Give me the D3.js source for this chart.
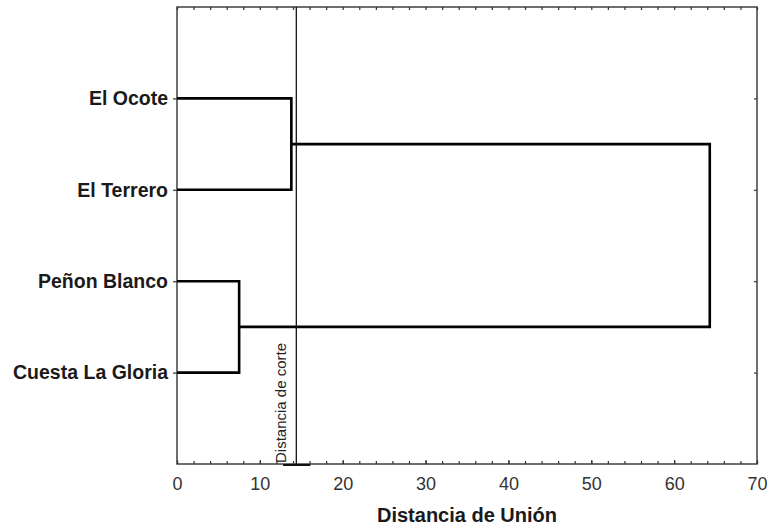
<!DOCTYPE html>
<html>
<head>
<meta charset="utf-8">
<script src="https://cdn.jsdelivr.net/npm/d3@7"></script>
<style>
  body { margin: 0; background: #fff; }
  svg { font-family: "Liberation Sans", Arial, sans-serif; }
</style>
</head>
<body>
<svg id="chart" width="771" height="529"></svg>
<script>
// leaves, top to bottom
var leaves = ["El Ocote", "El Terrero", "Peñon Blanco", "Cuesta La Gloria"];
// linkage: [child a, child b, join distance]; ids >= 4 are earlier merges
var mergeA = [0, 2, 4];
var mergeB = [1, 3, 5];
var mergeDist = [13.8, 7.5, 64.3];
var cutDistance = 14.4;
var cutMark = [12.8, 16.1];
var majorTicks = [0, 10, 20, 30, 40, 50, 60, 70];
var minorTicks = d3.range(0, 71, 2);

var svg = d3.select("#chart");
var plotL = 177, plotR = 757, plotT = 7, plotB = 464;

var x = d3.scaleLinear().domain([0, 70]).range([plotL, plotR]);
var y = d3.scalePoint().domain(leaves).range([plotT, plotB]).padding(1);

// node positions: leaves first, then each merge
var nodes = leaves.map(function (d) { return { h: 0, y: y(d) }; });
var links = [];
mergeDist.forEach(function (h, i) {
    var a = nodes[mergeA[i]], b = nodes[mergeB[i]];
    links.push({ a: a, b: b, h: h });
    nodes.push({ h: h, y: (a.y + b.y) / 2 });
});

// frame
svg.append("rect")
    .attr("x", plotL).attr("y", plotT)
    .attr("width", plotR - plotL).attr("height", plotB - plotT)
    .attr("fill", "none").attr("stroke", "#333").attr("stroke-width", 1.4);

// bottom axis: minor ticks inward, labels on the tens
svg.append("g").attr("transform", "translate(0," + plotB + ")")
    .call(d3.axisBottom(x).tickValues(minorTicks).tickSize(-3).tickFormat(""));
var gMajor = svg.append("g").attr("transform", "translate(0," + plotB + ")")
    .call(d3.axisBottom(x).tickValues(majorTicks).tickSize(-4).tickPadding(13));
gMajor.selectAll("text").attr("font-size", 18).attr("fill", "#333")
    .attr("font-family", "'Liberation Sans', Arial, sans-serif");

// top ticks inward
svg.append("g").attr("transform", "translate(0," + plotT + ")")
    .call(d3.axisTop(x).tickValues(minorTicks).tickSize(-3).tickFormat(""));

// left axis: outward ticks with labels
var gLeft = svg.append("g").attr("transform", "translate(" + plotL + ",0)")
    .call(d3.axisLeft(y).tickSize(4).tickPadding(5));
gLeft.selectAll("text").attr("font-size", 19.5).attr("font-weight", "bold")
    .attr("fill", "#1a1a1a").attr("font-family", "'Liberation Sans', Arial, sans-serif");

// right ticks inward
svg.append("g").attr("transform", "translate(" + plotR + ",0)")
    .call(d3.axisRight(y).tickSize(-3).tickFormat(""));

svg.selectAll(".domain").remove();
svg.selectAll(".tick line").attr("stroke", "#333").attr("stroke-width", 1.2);

// dendrogram
svg.append("g").selectAll("path")
    .data(links)
    .enter().append("path")
    .attr("d", function (d) {
        return "M" + x(d.a.h) + "," + d.a.y +
            "H" + x(d.h) + "V" + d.b.y + "H" + x(d.b.h);
    })
    .attr("fill", "none")
    .attr("stroke", "#000")
    .attr("stroke-width", 2.6);

// cut line
svg.append("line")
    .attr("x1", x(cutDistance)).attr("x2", x(cutDistance))
    .attr("y1", plotT).attr("y2", plotB)
    .attr("stroke", "#111").attr("stroke-width", 1.3);
svg.append("line")
    .attr("x1", x(cutMark[0])).attr("x2", x(cutMark[1]))
    .attr("y1", plotB + 1).attr("y2", plotB + 1)
    .attr("stroke", "#111").attr("stroke-width", 2);
svg.append("text")
    .attr("transform", "translate(" + (x(cutDistance) - 10) + "," + (plotB - 1) + ") rotate(-90)")
    .attr("font-size", 15)
    .attr("fill", "#222")
    .text("Distancia de corte");

// axis title
svg.append("text")
    .attr("x", (plotL + plotR) / 2).attr("y", 522)
    .attr("text-anchor", "middle")
    .attr("font-size", 20).attr("font-weight", "bold")
    .attr("fill", "#1a1a1a")
    .text("Distancia de Unión");
</script>
</body>
</html>
